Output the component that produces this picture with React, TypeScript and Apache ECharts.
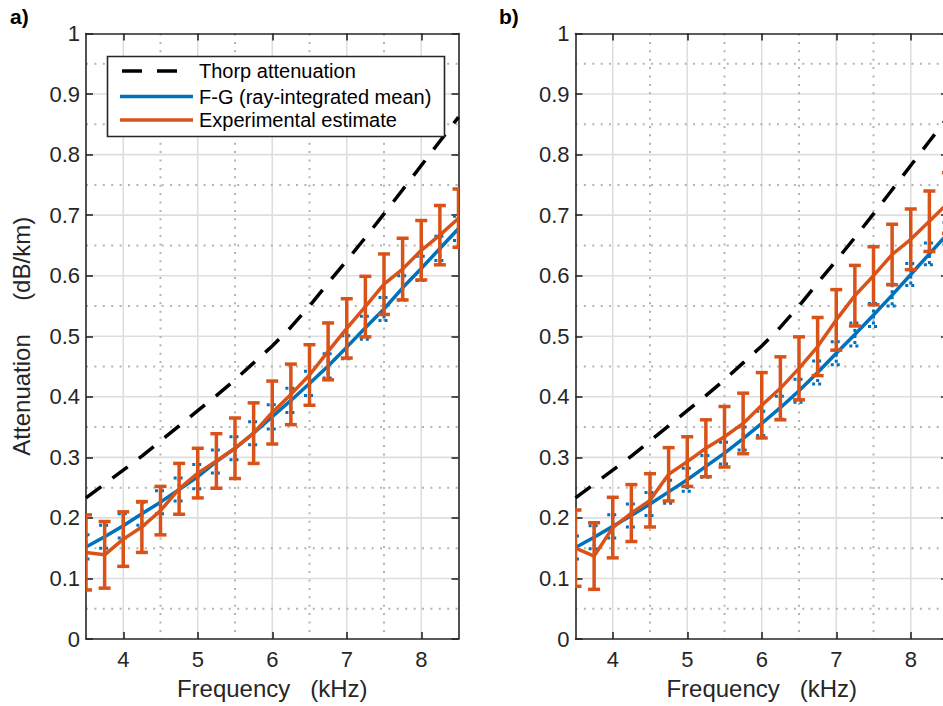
import React, { useEffect, useRef } from "react";
import * as echarts from "echarts";

// ---------- data ----------
const freqs = [3.5, 3.75, 4, 4.25, 4.5, 4.75, 5, 5.25, 5.5, 5.75, 6, 6.25, 6.5, 6.75, 7, 7.25, 7.5, 7.75, 8, 8.25, 8.5];
const thorp = [0.233, 0.256, 0.279, 0.302, 0.327, 0.352, 0.377, 0.402, 0.428, 0.456, 0.484, 0.515, 0.55, 0.588, 0.625, 0.663, 0.702, 0.742, 0.782, 0.822, 0.862];

const fgA = [0.152, 0.169, 0.187, 0.207, 0.226, 0.247, 0.268, 0.293, 0.315, 0.34, 0.367, 0.394, 0.422, 0.451, 0.482, 0.514, 0.545, 0.58, 0.612, 0.645, 0.678];
const fgErrA = [0.02, 0.019, 0.02, 0.019, 0.019, 0.019, 0.02, 0.019, 0.019, 0.019, 0.02, 0.02, 0.02, 0.02, 0.019, 0.019, 0.019, 0.02, 0.02, 0.02, 0.02];
const expA = [0.143, 0.139, 0.165, 0.185, 0.212, 0.248, 0.274, 0.294, 0.315, 0.34, 0.374, 0.404, 0.436, 0.475, 0.513, 0.549, 0.586, 0.611, 0.642, 0.667, 0.695];
const expErrA = [0.062, 0.055, 0.045, 0.042, 0.04, 0.042, 0.041, 0.045, 0.05, 0.05, 0.052, 0.05, 0.05, 0.047, 0.049, 0.05, 0.05, 0.051, 0.049, 0.049, 0.048];

const fgB = [0.151, 0.168, 0.186, 0.204, 0.223, 0.243, 0.263, 0.285, 0.307, 0.331, 0.356, 0.382, 0.41, 0.44, 0.472, 0.503, 0.535, 0.568, 0.602, 0.636, 0.67];
const fgErrB = [0.019, 0.019, 0.019, 0.019, 0.019, 0.019, 0.019, 0.018, 0.018, 0.019, 0.02, 0.019, 0.019, 0.019, 0.019, 0.019, 0.019, 0.018, 0.018, 0.018, 0.018];
const expB = [0.15, 0.137, 0.184, 0.208, 0.229, 0.272, 0.293, 0.315, 0.334, 0.356, 0.386, 0.414, 0.447, 0.483, 0.527, 0.567, 0.6, 0.635, 0.66, 0.69, 0.72];
const expErrB = [0.063, 0.055, 0.05, 0.047, 0.044, 0.044, 0.041, 0.047, 0.05, 0.05, 0.054, 0.052, 0.052, 0.048, 0.05, 0.05, 0.048, 0.05, 0.05, 0.05, 0.05];

const xTicks = [4, 5, 6, 7, 8];
const xMinor = [4.5, 5.5, 6.5, 7.5];
const yTicks = [0.1, 0.2, 0.3, 0.4, 0.5, 0.6, 0.7, 0.8, 0.9];
const yMinor = [0.05, 0.15, 0.25, 0.35, 0.45, 0.55, 0.65, 0.75, 0.85, 0.95];

const legendNames = ["Thorp attenuation", "F-G (ray-integrated mean)", "Experimental estimate"];
const xTitle = "Frequency\u00a0\u00a0\u00a0(kHz)";
const yTitle = "Attenuation\u00a0\u00a0\u00a0\u00a0\u00a0(dB/km)";

// ---------- styles ----------
const BLUE = "#0072BD";
const ORANGE = "#D95319";
const AXIS = "#262626";
const FONT = "'Liberation Sans', Arial, Helvetica, sans-serif";
const X_MIN = 3.5;
const X_MAX = 8.5;

const panels = [
  { left: 86, fg: fgA, fgErr: fgErrA, exp: expA, expErr: expErrA, label: "a)", labelX: 10, showYName: true },
  { left: 575.5, fg: fgB, fgErr: fgErrB, exp: expB, expErr: expErrB, label: "b)", labelX: 499, showYName: false },
];

const gridLineRender = (params: any, api: any) => {
  const cs = params.coordSys;
  const orient = api.value(0);
  const v = api.value(1);
  const major = api.value(2);
  const style = major
    ? { stroke: "#dedede", lineWidth: 1.6, fill: null }
    : { stroke: "#b4b4b4", lineWidth: 2, lineDash: [2, 6.4], fill: null };
  if (orient === 0) {
    const p = api.coord([v, 0]);
    return { type: "line", silent: true, shape: { x1: p[0], y1: cs.y, x2: p[0], y2: cs.y + cs.height }, style };
  }
  const p = api.coord([X_MIN, v]);
  return { type: "line", silent: true, shape: { x1: cs.x, y1: p[1], x2: cs.x + cs.width, y2: p[1] }, style };
};

const makeErrRender = (color: string, lw: number, capHalf: number, dotted: boolean) => (params: any, api: any) => {
  const x = api.value(0);
  const c = api.value(1);
  const e = api.value(2);
  const top = api.coord([x, c + e]);
  const bot = api.coord([x, c - e]);
  const style: any = { stroke: color, lineWidth: lw, fill: null };
  if (dotted) style.lineDash = [3, 3];
  return {
    type: "group",
    children: [
      { type: "line", shape: { x1: top[0], y1: top[1], x2: bot[0], y2: bot[1] }, style },
      { type: "line", shape: { x1: top[0] - capHalf, y1: top[1], x2: top[0] + capHalf, y2: top[1] }, style },
      { type: "line", shape: { x1: bot[0] - capHalf, y1: bot[1], x2: bot[0] + capHalf, y2: bot[1] }, style },
    ],
  };
};

function buildOption() {
  const grid: any[] = [];
  const xAxis: any[] = [];
  const yAxis: any[] = [];
  const series: any[] = [];
  const graphic: any[] = [];

  const gridData: number[][] = [
    ...xTicks.map((v) => [0, v, 1]),
    ...yTicks.map((v) => [1, v, 1]),
    ...xMinor.map((v) => [0, v, 0]),
    ...yMinor.map((v) => [1, v, 0]),
  ];

  panels.forEach((p, gi) => {
    grid.push({ left: p.left, top: 33.5, width: 372.5, height: 605.5, containLabel: false });
    const axisLine = { show: true, onZero: false, lineStyle: { color: AXIS, width: 1.6 } };
    const tickStyle = { color: AXIS, width: 1.6 };
    xAxis.push({
      type: "value", gridIndex: gi, position: "bottom", min: X_MIN, max: X_MAX,
      axisLine,
      axisTick: { show: true, inside: true, length: 7, customValues: xTicks, lineStyle: tickStyle },
      axisLabel: { show: true, customValues: xTicks, color: AXIS, fontSize: 22, fontFamily: FONT, margin: 9 },
      splitLine: { show: false },
      name: xTitle, nameLocation: "middle", nameGap: 37,
      nameTextStyle: { color: AXIS, fontSize: 24, fontFamily: FONT },
    });
    xAxis.push({
      type: "value", gridIndex: gi, position: "top", min: X_MIN, max: X_MAX,
      axisLine,
      axisTick: { show: true, inside: true, length: 7, customValues: xTicks, lineStyle: tickStyle },
      axisLabel: { show: false },
      splitLine: { show: false },
    });
    yAxis.push({
      type: "value", gridIndex: gi, position: "left", min: 0, max: 1, interval: 0.1,
      axisLine,
      axisTick: { show: true, inside: true, length: 7, lineStyle: tickStyle },
      axisLabel: { show: true, color: AXIS, fontSize: 22, fontFamily: FONT, margin: 6 },
      splitLine: { show: false },
      name: p.showYName ? yTitle : "", nameLocation: "middle", nameGap: 53,
      nameTextStyle: { color: AXIS, fontSize: 24, fontFamily: FONT },
    });
    yAxis.push({
      type: "value", gridIndex: gi, position: "right", min: 0, max: 1, interval: 0.1,
      axisLine,
      axisTick: { show: true, inside: true, length: 7, lineStyle: tickStyle },
      axisLabel: { show: false },
      splitLine: { show: false },
    });

    const xi = gi * 2;
    const yi = gi * 2;
    series.push({
      type: "custom", xAxisIndex: xi, yAxisIndex: yi, renderItem: gridLineRender,
      data: gridData, silent: true, z: 0, clip: false,
    });
    series.push({
      type: "line", name: legendNames[0], xAxisIndex: xi, yAxisIndex: yi,
      data: freqs.map((f, i) => [f, thorp[i]]), showSymbol: false, clip: true,
      lineStyle: { color: "#000", width: 3.5, type: [19, 14] }, z: 2,
    });
    series.push({
      type: "custom", xAxisIndex: xi, yAxisIndex: yi, renderItem: makeErrRender(BLUE, 3, 5.5, true),
      data: freqs.map((f, i) => [f, p.fg[i], p.fgErr[i]]), clip: true, z: 3,
    });
    series.push({
      type: "line", name: legendNames[1], xAxisIndex: xi, yAxisIndex: yi,
      data: freqs.map((f, i) => [f, p.fg[i]]), showSymbol: false, clip: true,
      lineStyle: { color: BLUE, width: 3.5 }, z: 4,
    });
    series.push({
      type: "custom", xAxisIndex: xi, yAxisIndex: yi, renderItem: makeErrRender(ORANGE, 3.5, 6, false),
      data: freqs.map((f, i) => [f, p.exp[i], p.expErr[i]]), clip: true, z: 5,
    });
    series.push({
      type: "line", name: legendNames[2], xAxisIndex: xi, yAxisIndex: yi,
      data: freqs.map((f, i) => [f, p.exp[i]]), showSymbol: false, clip: true,
      lineStyle: { color: ORANGE, width: 3.5 }, z: 6,
    });

    graphic.push({
      type: "text", left: p.labelX, top: 6,
      style: { text: p.label, fontSize: 21, fontWeight: "bold", fontFamily: FONT, fill: "#000" },
    });
  });

  // legend box (panel a)
  const rows = [71, 96.5, 120];
  const Z = 100;
  graphic.push(
    { type: "rect", z: Z, shape: { x: 107.5, y: 56.5, width: 337, height: 80 }, style: { fill: "#fff", stroke: AXIS, lineWidth: 1.6 } },
    { type: "line", z: Z + 1, shape: { x1: 122, y1: rows[0], x2: 177, y2: rows[0] }, style: { stroke: "#000", lineWidth: 3.5, lineDash: [20, 15] } },
    { type: "line", z: Z + 1, shape: { x1: 120, y1: rows[1], x2: 193, y2: rows[1] }, style: { stroke: BLUE, lineWidth: 3.5 } },
    { type: "line", z: Z + 1, shape: { x1: 120, y1: rows[2], x2: 193, y2: rows[2] }, style: { stroke: ORANGE, lineWidth: 3.5 } },
    ...legendNames.map((n, i) => ({
      type: "text", z: Z + 1, x: 199, y: rows[i],
      style: { text: n, fontSize: 20, fontFamily: FONT, fill: "#000", verticalAlign: "middle", align: "left" },
    }))
  );

  return {
    animation: false,
    backgroundColor: "#fff",
    grid, xAxis, yAxis, series, graphic,
  };
}

export default function App() {
  const ref = useRef<HTMLDivElement>(null);
  useEffect(() => {
    if (!ref.current) return;
    const chart = echarts.init(ref.current, undefined, { renderer: "svg" });
    chart.setOption(buildOption() as any);
    return () => chart.dispose();
  }, []);
  return (
    <div style={{ position: "fixed", left: 0, top: 0, width: 943, height: 706, overflow: "hidden", background: "#fff" }}>
      <div ref={ref} style={{ width: 960, height: 706 }} />
    </div>
  );
}
